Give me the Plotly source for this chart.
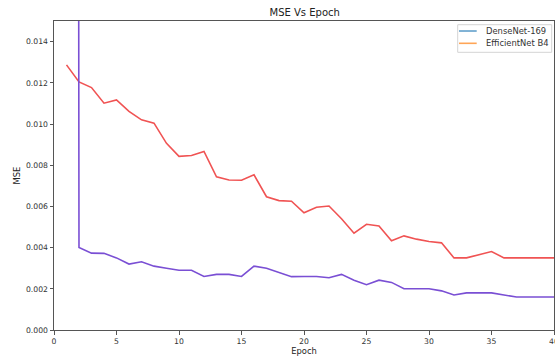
import plotly.graph_objects as go

epochs = list(range(1, 41))
efficientnet_b4 = [0.01287, 0.01204, 0.01177, 0.01101, 0.01117, 0.01061, 0.0102, 0.01004, 0.00906, 0.00843,
                   0.00847, 0.00867, 0.00744, 0.00728, 0.00727, 0.00753, 0.00647, 0.00628, 0.00625, 0.00569,
                   0.00596, 0.00602, 0.0054, 0.0047, 0.00513, 0.00505, 0.00433, 0.00457, 0.00441, 0.0043,
                   0.00423, 0.0035, 0.0035, 0.00367, 0.00381, 0.0035, 0.0035, 0.0035, 0.0035, 0.0035]
densenet_169 = [0.5, 0.0040, 0.00373, 0.00372, 0.0035, 0.0032, 0.00331, 0.0031, 0.0030, 0.0029,
                0.0029, 0.0026, 0.0027, 0.0027, 0.0026, 0.0031, 0.0030, 0.00278, 0.00259, 0.0026,
                0.0026, 0.00254, 0.0027, 0.00242, 0.0022, 0.00242, 0.00231, 0.0020, 0.0020, 0.0020,
                0.0019, 0.0017, 0.0018, 0.0018, 0.0018, 0.0017, 0.0016, 0.0016, 0.0016, 0.0016]
x_ticks = [0, 5, 10, 15, 20, 25, 30, 35, 40]
y_ticks = [0.000, 0.002, 0.004, 0.006, 0.008, 0.010, 0.012, 0.014]
legend_names = ["DenseNet-169", "EfficientNet B4"]
legend_colors = ["#62a0cb", "#ffa556"]

font = "DejaVu Sans"
fig = go.Figure()
fig.add_trace(go.Scatter(x=epochs, y=efficientnet_b4, mode="lines", name="EfficientNet B4",
                         line=dict(color="#f05353", width=1.6), showlegend=False))
fig.add_trace(go.Scatter(x=epochs, y=densenet_169, mode="lines", name="DenseNet-169",
                         line=dict(color="#7a4fd4", width=1.6), showlegend=False))

# matplotlib-style legend box (paper coordinates)
fig.add_shape(type="rect", xref="paper", yref="paper", x0=0.8074, x1=0.9954, y0=0.8987, y1=0.988,
              line=dict(color="#d4d4d4", width=1), fillcolor="white", layer="above")
leg_y = [0.9676, 0.9278]
for name, col, yy in zip(legend_names, legend_colors, leg_y):
    fig.add_shape(type="line", xref="paper", yref="paper", x0=0.81, x1=0.8454, y0=yy, y1=yy,
                  line=dict(color=col, width=1.6), layer="above")
    fig.add_annotation(xref="paper", yref="paper", x=0.8606, y=yy, text=name, showarrow=False,
                       xanchor="left", yanchor="middle",
                       font=dict(family=font, size=8.4, color="#333333"))

fig.update_layout(
    width=555, height=359,
    margin=dict(l=54, r=1, t=21, b=29),
    paper_bgcolor="white", plot_bgcolor="white",
    showlegend=False,
    font=dict(family=font, size=7.7, color="#333333"),
    title=dict(text="MSE Vs Epoch", x=0.549, xanchor="center", y=0.966, yanchor="middle",
               font=dict(family=font, size=10, color="#222222")),
)
fig.update_xaxes(range=[0, 40], tickvals=x_ticks, ticks="outside", ticklen=3.5,
                 tickcolor="#555555", showline=True, linecolor="#555555", linewidth=1,
                 mirror=True, showgrid=False, zeroline=False, ticklabeloverflow="allow",
                 automargin=False,
                 title=dict(text="Epoch", standoff=3, font=dict(size=8.4, color="#222222")))
fig.update_yaxes(range=[0, 0.015], tickvals=y_ticks, tickformat=".3f", ticks="outside",
                 ticklen=3.5, tickcolor="#555555", showline=True, linecolor="#555555",
                 linewidth=1, mirror=True, showgrid=False, zeroline=False, automargin=False,
                 title=dict(text="MSE", standoff=4, font=dict(size=8.4, color="#222222")))

fig.write_html("out.html", config={"displayModeBar": False},
               post_script="document.body.style.margin='0';")
